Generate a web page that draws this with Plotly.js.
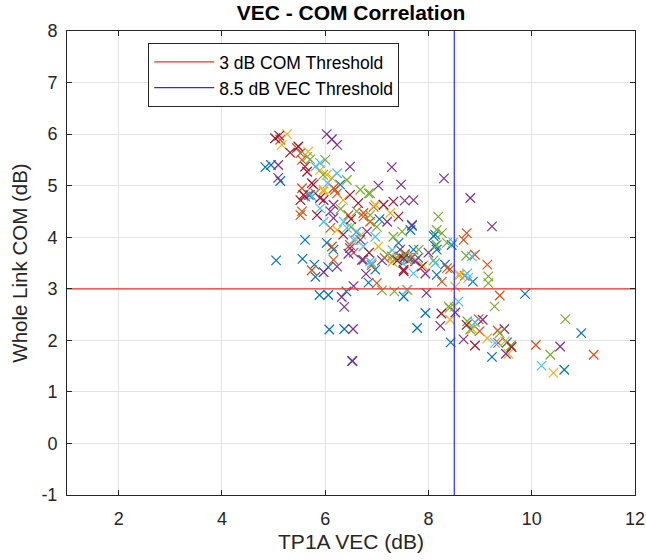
<!DOCTYPE html>
<html>
<head>
<meta charset="utf-8">
<script src="https://cdn.plot.ly/plotly-3.0.1.min.js"></script>
<style>html,body{margin:0;padding:0;background:#fff;}#chart{width:646px;height:560px;}</style>
</head>
<body>
<div id="chart"></div>
<script>
// ---- Data ----
const blueVEC = [4.84,4.95,5.13,6.29,5.68,5.71,7.68,8.10,8.13,8.32,8.86,7.52,9.87,7.94,7.78,10.96,9.52,9.23,10.63,8.43,5.05,5.56,5.79,5.81,6.06,6.84,5.89,6.06,6.41,6.08,6.37,6.52,8.16,5.61,6.03,6.16,7.65,8.13,7.42,7.71,8.16,6.97,7.60,7.05,6.60,8.45,7.80];
const blueCOM = [5.36,5.40,5.09,5.02,4.82,4.82,4.22,4.02,3.83,3.47,3.14,2.85,2.90,2.53,2.24,2.14,1.96,1.68,1.43,1.96,3.55,3.58,3.47,3.23,3.42,3.12,2.88,2.88,2.95,2.21,2.22,1.60,3.27,3.95,3.89,3.76,4.14,4.05,3.89,3.76,3.76,3.37,3.60,4.35,4.10,3.85,3.60];

const orangeVEC = [5.13,5.45,5.52,5.55,5.52,5.61,6.19,8.74,8.68,8.90,9.14,8.42,8.26,9.38,11.20,8.97,8.99,9.34,9.35,10.08,5.74,6.16,7.00,8.36,5.81,6.16,6.23,5.55,6.45,6.94,6.74,6.10,6.87,6.13,6.48,6.74,7.29,6.90,7.75,8.70,5.55,6.55,7.15,7.55];
const orangeCOM = [5.89,5.73,5.63,5.50,4.43,4.79,4.92,4.08,3.95,3.66,3.47,3.38,3.14,2.87,1.72,2.41,2.18,2.19,1.95,1.91,3.36,3.56,3.11,3.40,4.85,4.95,4.85,4.50,4.43,4.59,4.40,4.18,4.30,3.82,3.85,4.47,3.63,3.46,3.55,3.25,4.95,3.70,3.60,3.68];

const yellowVEC = [5.26,5.16,5.67,6.03,6.13,5.97,8.61,8.52,8.42,9.14,9.48,9.55,10.42,7.60,8.58,7.94,5.97,6.35,6.97,6.23,7.03,7.26,7.40,6.60,8.50,8.85,7.90,5.90,7.30,7.70,6.70];
const yellowCOM = [6.00,5.79,5.66,5.21,5.15,4.89,3.27,3.04,2.40,2.04,1.98,1.74,1.37,2.98,3.27,3.29,4.92,4.72,4.63,4.14,3.82,4.47,3.60,3.95,2.65,2.22,3.45,5.30,3.52,3.62,4.05];

const purpleVEC = [5.09,5.09,6.03,6.13,6.23,6.48,7.29,7.03,7.47,7.54,7.71,8.30,8.81,9.23,7.96,8.52,8.23,9.05,9.47,9.50,10.55,8.68,5.97,6.23,6.45,6.71,6.79,6.32,6.55,6.37,6.54,6.53,6.16,6.10,6.16,6.81,6.48,6.68,7.68,7.45,7.74,6.74,7.94,7.20,8.00,7.10,7.45,7.65];
const purpleCOM = [5.40,5.15,6.00,5.90,5.79,5.37,5.36,5.00,5.02,4.71,4.72,5.14,4.76,4.21,2.92,2.54,2.28,2.40,2.22,1.74,1.88,2.02,3.32,3.43,3.68,3.56,3.29,2.84,3.05,2.65,2.22,1.60,4.63,4.50,4.37,4.11,3.79,3.95,4.24,3.76,3.53,3.56,3.30,4.30,3.70,3.55,3.62,3.58];

const greenVEC = [5.65,5.71,6.00,5.96,6.42,8.19,8.16,6.68,6.84,8.26,8.36,8.73,9.16,9.16,9.28,8.39,10.65,8.75,8.81,9.38,9.60,10.36,7.10,7.34,8.41,6.87,6.61,6.87,7.49,7.32,7.81,8.16,7.20,7.00,7.55,6.30,8.10,7.35,7.60,6.50];
const greenCOM = [5.56,5.51,5.50,5.21,5.11,4.40,4.14,4.92,4.85,4.08,3.89,3.64,3.24,3.11,2.66,2.66,2.41,2.37,2.21,2.14,1.90,1.72,2.97,2.95,2.63,4.85,4.50,4.43,4.11,4.01,3.76,3.85,3.66,4.20,3.65,4.55,3.55,3.58,3.55,4.20];

const lightBlueVEC = [5.81,5.90,6.23,5.74,8.48,8.84,8.13,8.77,7.58,8.58,9.29,10.19,6.90,7.71,5.90,5.97,6.36,6.42,6.61,6.97,6.74,6.87,8.90,7.30,6.05,8.75,7.50,6.55];
const lightBlueCOM = [5.37,5.44,5.24,4.79,3.90,3.63,3.50,3.21,2.98,2.75,1.95,1.51,3.50,3.30,4.56,4.30,4.30,4.18,4.11,4.01,3.82,3.53,2.35,3.75,5.05,3.30,3.50,3.95];

const redVEC = [5.03,5.11,5.32,5.48,5.61,5.65,5.74,5.52,5.84,5.97,7.32,7.42,6.64,7.13,8.25,8.74,9.61,7.52,5.77,5.58,5.90,6.48,7.52,7.87,7.52,6.85,6.50,8.90,7.40,6.35];
const redCOM = [5.92,5.97,5.64,5.76,5.37,5.27,5.05,4.72,4.43,4.72,4.69,4.40,4.66,4.63,2.52,2.30,1.87,3.34,5.02,4.82,4.76,4.82,3.59,3.43,3.37,3.70,4.35,1.90,3.55,4.05];

const comThreshold = 3;      // dB
const vecThreshold = 8.5;    // dB
const xRange = [1, 12];
const yRange = [-1, 8];
const xTicks = [2, 4, 6, 8, 10, 12];
const yTicks = [-1, 0, 1, 2, 3, 4, 5, 6, 7, 8];

// ---- Build traces ----
const FONT = '"Liberation Sans", Arial, Helvetica, sans-serif';
const series = [
  [blueVEC, blueCOM, '#0072BD'],
  [orangeVEC, orangeCOM, '#D95319'],
  [yellowVEC, yellowCOM, '#EDB120'],
  [purpleVEC, purpleCOM, '#7E2F8E'],
  [greenVEC, greenCOM, '#77AC30'],
  [lightBlueVEC, lightBlueCOM, '#4DBEEE'],
  [redVEC, redCOM, '#A2142F']
];
const traces = series.map(([x, y, c]) => ({
  type: 'scatter', mode: 'markers', x: x, y: y, showlegend: false, hoverinfo: 'skip',
  marker: {symbol: 'x-thin', size: 9.5, line: {color: c, width: 1.2}, color: c}
}));
traces.push({
  type: 'scatter', mode: 'lines', name: '3 dB COM Threshold',
  x: xRange, y: [comThreshold, comThreshold],
  line: {color: '#ff2a2a', width: 1.2}
});
traces.push({
  type: 'scatter', mode: 'lines', name: '8.5 dB VEC Threshold',
  x: [vecThreshold, vecThreshold], y: yRange,
  line: {color: '#2a2aff', width: 1.2}
});

const axisCommon = {
  showline: true, linecolor: '#262626', linewidth: 1, mirror: 'ticks',
  ticks: 'inside', ticklen: 5, tickcolor: '#262626',
  showgrid: true, gridcolor: '#e3e3e3', gridwidth: 1, zeroline: false,
  tickfont: {family: FONT, size: 18, color: '#262626'}
};

const layout = {
  width: 646, height: 560,
  margin: {l: 67, r: 11, t: 31, b: 65},
  paper_bgcolor: '#ffffff', plot_bgcolor: '#ffffff',
  title: {text: '<b>VEC - COM Correlation</b>', font: {family: FONT, size: 21, color: '#000'},
          x: 0.5, xref: 'paper', y: 1 - 13/560, yref: 'container', yanchor: 'middle'},
  xaxis: Object.assign({}, axisCommon, {
    range: xRange, tickvals: xTicks, ticktext: xTicks.map(String), ticklabelstandoff: 7,
    title: {text: 'TP1A VEC (dB)', font: {family: FONT, size: 21, color: '#262626'}, standoff: 6}
  }),
  yaxis: Object.assign({}, axisCommon, {
    range: yRange, tickvals: yTicks, ticktext: yTicks.map(String), ticklabelstandoff: 5,
    title: {text: 'Whole Link COM (dB)', font: {family: FONT, size: 20.5, color: '#262626'}, standoff: 8}
  }),
  legend: {
    x: 0.143, y: 0.974, xanchor: 'left', yanchor: 'top',
    bgcolor: '#ffffff', bordercolor: '#262626', borderwidth: 1,
    font: {family: FONT, size: 17.5, color: '#000'}, itemwidth: 60, tracegroupgap: 0
  },
  showlegend: true
};

Plotly.newPlot('chart', traces, layout, {displayModeBar: false, staticPlot: true});
</script>
</body>
</html>
